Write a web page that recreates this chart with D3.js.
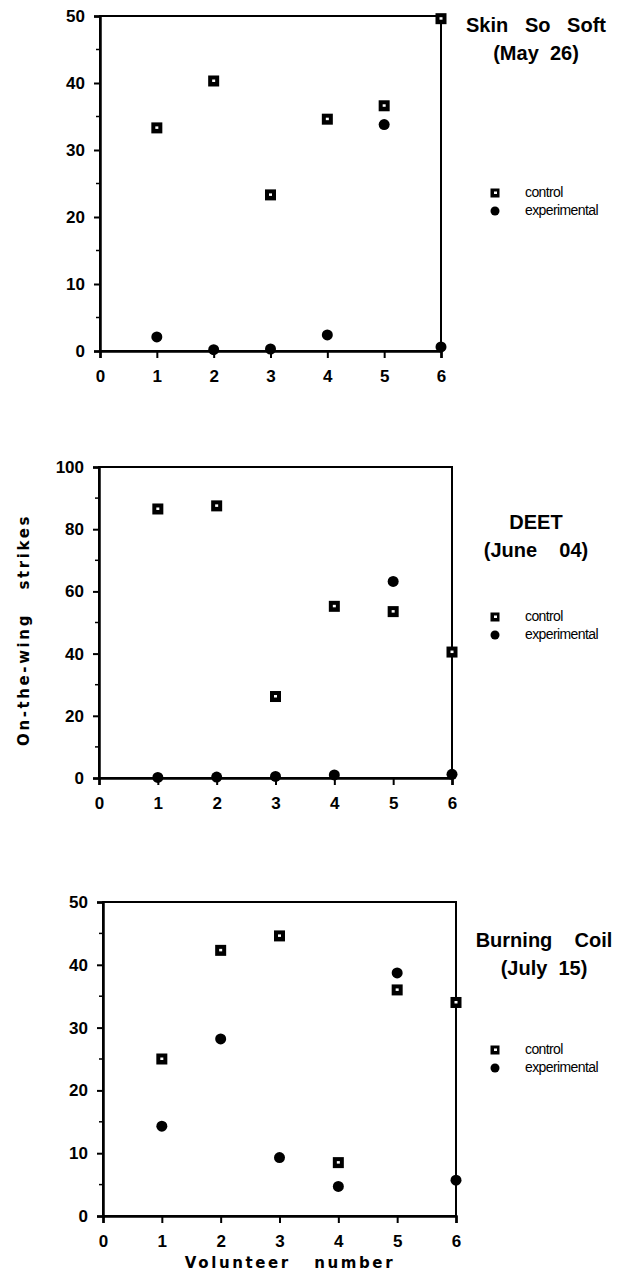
<!DOCTYPE html>
<html>
<head>
<meta charset="utf-8">
<script src="https://cdn.jsdelivr.net/npm/d3@7"></script>
<style>
  body { margin: 0; background: #fff; }
  svg { display: block; }
  text { fill: #000; }
  .title { font-family: "Liberation Sans Narrow", "Liberation Sans", sans-serif; font-weight: bold; font-size: 20px; font-stretch: condensed; }
  .legend { font-family: "Liberation Sans Narrow", "Liberation Sans", sans-serif; font-size: 14px; font-stretch: condensed; letter-spacing: -0.6px; }
  .axis-title { font-family: "DejaVu Sans", sans-serif; font-weight: bold; font-size: 15px; letter-spacing: 2.6px; }
</style>
</head>
<body>
<script>
// volunteers on the x axis
const volunteers = [1, 2, 3, 4, 5, 6];
const xTicks = [0, 1, 2, 3, 4, 5, 6];

// Skin So Soft (May 26)
const sssControl = [33.3, 40.3, 23.3, 34.6, 36.6, 49.6];
const sssExperimental = [2.1, 0.2, 0.3, 2.4, 33.8, 0.6];
const sssTicks = [0, 10, 20, 30, 40, 50];

// DEET (June 04)
const deetControl = [86.5, 87.5, 26.2, 55.2, 53.5, 40.5];
const deetExperimental = [0.2, 0.3, 0.5, 1.0, 63.2, 1.2];
const deetTicks = [0, 20, 40, 60, 80, 100];

// Burning Coil (July 15)
const coilControl = [25.0, 42.3, 44.6, 8.5, 36.0, 34.0];
const coilExperimental = [14.3, 28.2, 9.3, 4.7, 38.7, 5.7];
const coilTicks = [0, 10, 20, 30, 40, 50];

const width = 623, height = 1275;

const svg = d3.select("body")
  .append("svg")
  .attr("width", width)
  .attr("height", height);

// panel layout (pixels only, no data here)
const panels = [
  { control: sssControl, experimental: sssExperimental, ticks: sssTicks, yMax: 50, minor: 5,
    xr: [100, 441], yr: [351, 16], title: ["Skin   So   Soft", "(May  26)"], tx: 536, ty: 32, ly: 193 },
  { control: deetControl, experimental: deetExperimental, ticks: deetTicks, yMax: 100, minor: 10,
    xr: [99, 452], yr: [778, 467], title: ["DEET", "(June    04)"], tx: 536, ty: 529, ly: 617 },
  { control: coilControl, experimental: coilExperimental, ticks: coilTicks, yMax: 50, minor: 5,
    xr: [103, 456], yr: [1216, 902], title: ["Burning    Coil", "(July  15)"], tx: 544, ty: 947, ly: 1050 }
];

function styleTicks(sel) {
  sel.selectAll(".tick text")
    .style("font-family", '"Liberation Sans", Arial, sans-serif')
    .style("font-weight", "bold")
    .style("font-size", "17px");
}

panels.forEach(p => {
  const x = d3.scaleLinear().domain([0, 6]).range(p.xr);
  const y = d3.scaleLinear().domain([0, p.yMax]).range(p.yr);
  const g = svg.append("g");

  // frame
  g.append("rect")
    .attr("x", x(0)).attr("y", y(p.yMax))
    .attr("width", x(6) - x(0)).attr("height", y(0) - y(p.yMax))
    .attr("fill", "none").attr("stroke", "#000").attr("stroke-width", 2);

  // y axis
  const yAxis = d3.axisLeft(y).tickValues(p.ticks).tickSize(6).tickPadding(9);
  const ya = g.append("g").attr("transform", `translate(${x(0)},0)`).call(yAxis);
  ya.select(".domain").attr("stroke-width", 2.5);
  ya.selectAll(".tick line").attr("stroke-width", 2);
  styleTicks(ya);

  // minor y ticks
  const minorVals = d3.range(p.minor, p.yMax, p.minor * 2);
  g.selectAll(".minor").data(minorVals).enter().append("line")
    .attr("x1", x(0) - 4).attr("x2", x(0))
    .attr("y1", d => y(d)).attr("y2", d => y(d))
    .attr("stroke", "#000").attr("stroke-width", 1.5);

  // x axis
  const xAxis = d3.axisBottom(x).tickValues(xTicks).tickSize(7).tickPadding(12).tickFormat(d3.format("d"));
  const xa = g.append("g").attr("transform", `translate(0,${y(0)})`).call(xAxis);
  xa.select(".domain").attr("stroke-width", 2.5);
  xa.selectAll(".tick line").attr("stroke-width", 2);
  styleTicks(xa);

  // control: black square with small white centre
  const ctrl = g.selectAll(".ctrl").data(volunteers.map((v, i) => [v, p.control[i]]))
    .enter().append("g")
    .attr("transform", d => `translate(${x(d[0])},${y(d[1])})`);
  ctrl.append("rect").attr("x", -5.5).attr("y", -5.5).attr("width", 11).attr("height", 11).attr("fill", "#000");
  ctrl.append("rect").attr("x", -1.5).attr("y", -1.5).attr("width", 3).attr("height", 2.5).attr("fill", "#fff");

  // experimental: black dot
  g.selectAll(".exp").data(volunteers.map((v, i) => [v, p.experimental[i]]))
    .enter().append("circle")
    .attr("cx", d => x(d[0])).attr("cy", d => y(d[1]))
    .attr("r", 5.5).attr("fill", "#000");

  // title
  g.append("text").attr("class", "title").attr("x", p.tx).attr("y", p.ty)
    .attr("text-anchor", "middle").style("white-space", "pre").text(p.title[0]);
  g.append("text").attr("class", "title").attr("x", p.tx).attr("y", p.ty + 28)
    .attr("text-anchor", "middle").style("white-space", "pre").text(p.title[1]);

  // legend
  const lg = g.append("g").attr("transform", `translate(495,${p.ly})`);
  lg.append("rect").attr("x", -4.5).attr("y", -4.5).attr("width", 9).attr("height", 9).attr("fill", "#000");
  lg.append("rect").attr("x", -1).attr("y", -1.5).attr("width", 3).attr("height", 2.5).attr("fill", "#fff");
  lg.append("text").attr("class", "legend").attr("x", 30).attr("y", 4).text("control");
  lg.append("circle").attr("cx", 0).attr("cy", 18).attr("r", 4.5).attr("fill", "#000");
  lg.append("text").attr("class", "legend").attr("x", 30).attr("y", 22).text("experimental");
});

// shared axis titles
svg.append("text").attr("class", "axis-title")
  .attr("transform", "translate(29,630) rotate(-90)")
  .attr("text-anchor", "middle").style("white-space", "pre")
  .text("On-the-wing   strikes");

svg.append("text").attr("class", "axis-title")
  .attr("x", 290).attr("y", 1268)
  .attr("text-anchor", "middle").style("white-space", "pre")
  .text("Volunteer   number");
</script>
</body>
</html>
